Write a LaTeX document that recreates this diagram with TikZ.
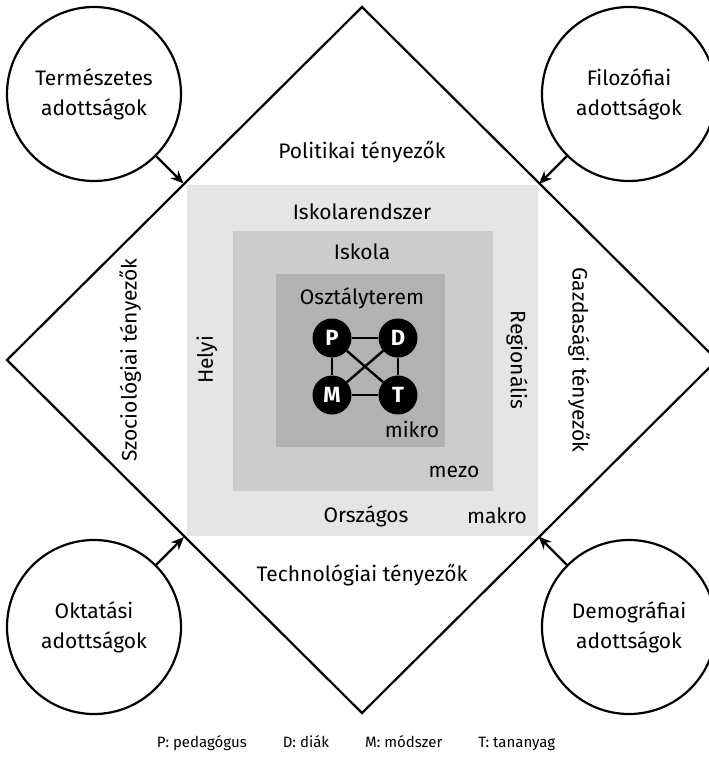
\documentclass[tikz,border=0pt]{standalone}
\usepackage{fontspec}
\setmainfont{Fira Sans}
\usetikzlibrary{arrows, arrows.meta}
\definecolor{kulso}{gray}{0.9}
\definecolor{kozep}{gray}{0.8}
\definecolor{belso}{gray}{0.7}
\tikzstyle{adott}=[circle, draw=black, line width=2.2pt, minimum size=174pt, inner sep=0pt, align=center, font=\fontsize{21}{30}\selectfont]
\tikzstyle{elem}=[circle, fill=black, inner sep=0pt, minimum size=39pt, text=white, font=\fontsize{22}{24}\selectfont\bfseries]
\tikzstyle{felirat}=[font=\fontsize{21}{25}\selectfont]
\tikzstyle{nyil}=[line width=2.2pt, -{Stealth[length=13pt, width=11pt]}]
\tikzstyle{el}=[line width=2.4pt]
\tikzstyle{jel}=[anchor=base, font=\fontsize{15}{18}\selectfont]
\begin{document}
\begin{tikzpicture}[x=1pt, y=-1pt]
    \useasboundingbox (0,0) rectangle (709,764);
    \fill[kulso] (187,185) rectangle (538,536);
    \fill[kozep] (233,231) rectangle (493,491);
    \fill[belso] (276,274) rectangle (445,447);
    \coordinate (fent) at (362,7);
    \coordinate (jobb) at (717,360);
    \coordinate (lent) at (362,713);
    \coordinate (bal) at (7,360);
    \draw[line width=2.2pt, line join=miter] (fent) -- (jobb) -- (lent) -- (bal) -- cycle;
    \coordinate (tl) at (183.5,183.5);
    \coordinate (tr) at (539,184);
    \coordinate (bl) at (184,537);
    \coordinate (br) at (538.5,536.5);
    \node[adott] (termeszetes) at (94,94) {Természetes\\adottságok};
    \node[adott] (filozofiai) at (629,94) {Filozófiai\\adottságok};
    \node[adott] (oktatasi) at (94,627) {Oktatási\\adottságok};
    \node[adott] (demografiai) at (629,627) {Demográfiai\\adottságok};
    \draw[nyil] (termeszetes) -- (tl);
    \draw[nyil] (filozofiai) -- (tr);
    \draw[nyil] (oktatasi) -- (bl);
    \draw[nyil] (demografiai) -- (br);
    \node[felirat] (politikai) at (362,152) {Politikai tényezők};
    \node[felirat] (technologiai) at (362,575) {Technológiai tényezők};
    \node[felirat, rotate=90] (szociologiai) at (130,360) {Szociológiai tényezők};
    \node[felirat, rotate=-90] (gazdasagi) at (579,360) {Gazdasági tényezők};
    \node[felirat] (rendszer) at (362,212) {Iskolarendszer};
    \node[felirat] (iskola) at (362,252) {Iskola};
    \node[felirat] (terem) at (362,298) {Osztályterem};
    \node[felirat, rotate=90] (helyi) at (207,360) {Helyi};
    \node[felirat, rotate=-90] (regionalis) at (517,360) {Regionális};
    \node[felirat] (orszagos) at (366,516) {Országos};
    \node[felirat] (makro) at (497,516) {makro};
    \node[felirat] (mezo) at (454,472) {mezo};
    \node[felirat] (mikro) at (412,429) {mikro};
    \node[elem] (P) at (332,338) {P};
    \node[elem] (D) at (398,338) {D};
    \node[elem] (M) at (332,395) {M};
    \node[elem] (T) at (398,395) {T};
    \draw[el] (P) -- (D);
    \draw[el] (P) -- (M);
    \draw[el] (D) -- (T);
    \draw[el] (M) -- (T);
    \draw[el] (P) -- (T);
    \draw[el] (D) -- (M);
    \node[jel] (jelmagyarazat) at (356,747) {P: pedagógus\hspace{36pt}D: diák\hspace{36pt}M: módszer\hspace{36pt}T: tananyag};
\end{tikzpicture}
\end{document}
